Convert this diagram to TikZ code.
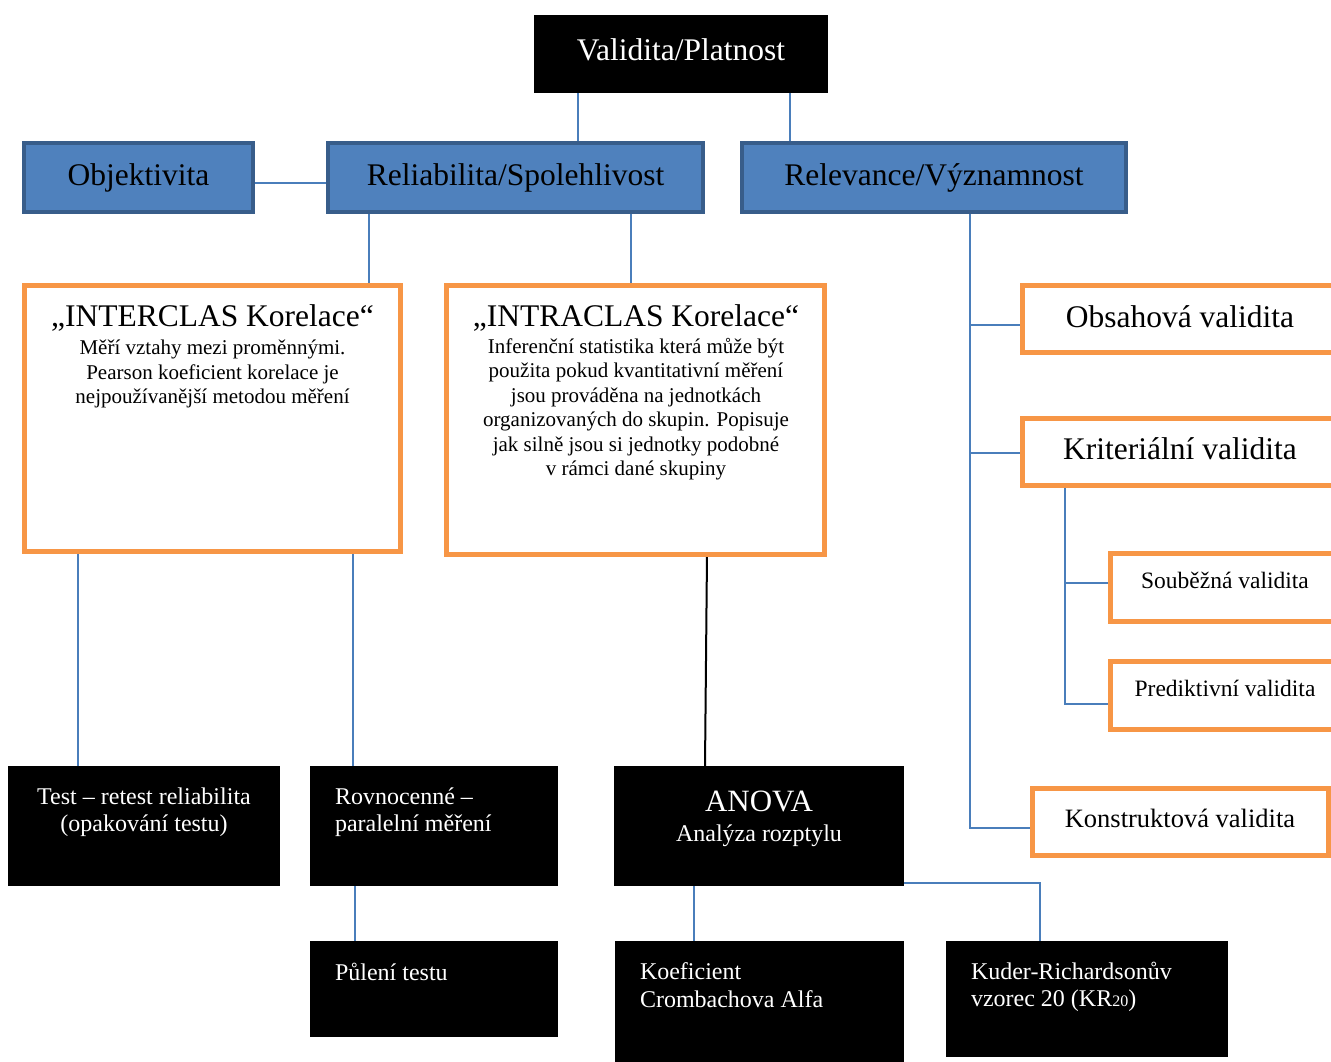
\documentclass[tikz,border=0pt]{standalone}
\usepackage{fontspec}
\setmainfont{Liberation Serif}
\definecolor{boxblue}{HTML}{4F81BD}
\definecolor{boxblueedge}{HTML}{385D8A}
\definecolor{linkblue}{HTML}{4A7EBB}
\definecolor{accent}{HTML}{F79646}
\newcommand\fsz[2]{\fontsize{#1}{#2}\selectfont}
\pgfdeclarelayer{background}
\pgfsetlayers{background,main}
\tikzset{
  every node/.style={inner sep=0pt, outer sep=0pt},
  darkbox/.style={rectangle, fill=black},
  bluebox/.style={rectangle, fill=boxblue, draw=boxblueedge, line width=4pt},
  framebox/.style={rectangle, fill=white, draw=accent, line width=5pt},
  conn/.style={draw=linkblue, line width=2pt},
  plainconn/.style={draw=black, line width=2pt},
  big/.style={font=\fsz{31.5}{36}},
  body/.style={font=\fsz{21}{24.5}, align=center},
  small/.style={font=\fsz{24}{27.5}},
  onblack/.style={small, text=white},
}
\begin{document}
\begin{tikzpicture}[x=1pt, y=-1pt]
\useasboundingbox (0,0) rectangle (1331,1062);
\clip (0,0) rectangle (1331,1062);

% top level
\node[darkbox, minimum width=294, minimum height=78] (valid) at (681,54) {};
\node[big, text=white] (validT) at (681,50) {Validita/Platnost};
\node[bluebox, minimum width=229, minimum height=69, big] (obj) at (138.5,177.5) {Objektivita};
\node[bluebox, minimum width=375, minimum height=69, big] (rel) at (515.5,177.5) {Reliabilita/Spolehlivost};
\node[bluebox, minimum width=384, minimum height=69, big] (relev) at (934,177.5) {Relevance/Významnost};

% correlation boxes
\node[framebox, minimum width=376, minimum height=266] (inter) at (212.5,418.5) {};
\node[big] (interT) at (212.5,318) {„INTERCLAS Korelace“};
\node[body] (interB) at (212.5,374) {Měří vztahy mezi proměnnými.\\Pearson koeficient korelace je\\nejpoužívanější metodou měření};

\node[framebox, minimum width=378, minimum height=269] (intra) at (635.5,420) {};
\node[big] (intraT) at (636,318) {„INTRACLAS Korelace“};
\node[body] (intraB) at (636,409) {Inferenční statistika která může být\\použita pokud kvantitativní měření\\jsou prováděna na jednotkách\\organizovaných do skupin. Popisuje\\jak silně jsou si jednotky podobné\\v rámci dané skupiny};

% validity types
\node[framebox, minimum width=322.5, minimum height=67] (obs) at (1183.75,319) {};
\node[big] (obsT) at (1180,317) {Obsahová validita};
\node[framebox, minimum width=322.5, minimum height=67] (krit) at (1183.75,452) {};
\node[big] (kritT) at (1180,449) {Kriteriální validita};
\node[framebox, minimum width=234.5, minimum height=68] (soub) at (1227.75,587.5) {};
\node[font=\fsz{23.5}{27}] (soubT) at (1225,580) {Souběžná validita};
\node[framebox, minimum width=234.5, minimum height=68] (pred) at (1227.75,695.5) {};
\node[font=\fsz{23.5}{27}] (predT) at (1225,688) {Prediktivní validita};
\node[framebox, minimum width=296, minimum height=67] (konst) at (1180.5,822) {};
\node[font=\fsz{26.5}{30}] (konstT) at (1180,818) {Konstruktová validita};

% methods
\node[darkbox, minimum width=272, minimum height=120] (test) at (144,826) {};
\node[onblack, align=center] (testT) at (144,812) {Test – retest reliabilita\\(opakování testu)};
\node[darkbox, minimum width=248, minimum height=120] (rovn) at (434,826) {};
\node[onblack, align=left, anchor=west] (rovnT) at (335,812) {Rovnocenné –\\paralelní měření};
\node[darkbox, minimum width=290, minimum height=120] (anova) at (759,826) {};
\node[text=white, align=center, font=\fsz{24}{30}] (anovaT) at (759,819) {{\fsz{31}{30}ANOVA}\\Analýza rozptylu};
\node[darkbox, minimum width=248, minimum height=96] (pul) at (434,989) {};
\node[onblack, anchor=west] (pulT) at (335,972) {Půlení testu};
\node[darkbox, minimum width=289, minimum height=121] (koef) at (759.5,1001.5) {};
\node[onblack, align=left, anchor=west] (koefT) at (640,985) {Koeficient\\Crombachova Alfa};
\node[darkbox, minimum width=282, minimum height=116] (kuder) at (1087,999) {};
\node[onblack, align=left, anchor=west] (kuderT) at (971,987) {Kuder-Richardsonův\\vzorec 20 (KR{\fsz{16}{16}20})};

% helper positions for the connector lines
\coordinate (x78) at (78,0);
\coordinate (x353) at (353,0);
\coordinate (x355) at (355,0);
\coordinate (x369) at (369,0);
\coordinate (x578) at (578,0);
\coordinate (x631) at (631,0);
\coordinate (x694) at (694,0);
\coordinate (x705) at (705,0);
\coordinate (x707) at (707,0);
\coordinate (x790) at (790,0);
\coordinate (x970) at (970,0);
\coordinate (x1040) at (1040,0);
\coordinate (x1065) at (1065,0);
\coordinate (y183) at (0,183);
\coordinate (y883) at (0,883);
\coordinate (obsIn) at ([yshift=-6pt]obs.west);
\coordinate (kritIn) at ([yshift=-1pt]krit.west);
\coordinate (soubIn) at ([yshift=4.5pt]soub.west);
\coordinate (predIn) at ([yshift=-8.5pt]pred.west);
\coordinate (konstIn) at ([yshift=-6pt]konst.west);

\begin{pgfonlayer}{background}
\fill[white] (0,0) rectangle (1331,1062);
\draw[conn] (valid.south -| x578) -- (rel.north -| x578);
\draw[conn] (valid.south -| x790) -- (relev.north -| x790);
\draw[conn] (obj.east |- y183) -- (rel.west |- y183);
\draw[conn] (rel.south -| x369) -- (inter.north -| x369);
\draw[conn] (rel.south -| x631) -- (intra.north -| x631);
\draw[conn] (inter.south -| x78) -- (test.north -| x78);
\draw[conn] (inter.south -| x353) -- (rovn.north -| x353);
\draw[plainconn] (intra.south -| x707) -- (anova.north -| x705);
\draw[conn] (rovn.south -| x355) -- (pul.north -| x355);
\draw[conn] (anova.south -| x694) -- (koef.north -| x694);
\draw[conn] (anova.east |- y883) -- (y883 -| x1040) -- (kuder.north -| x1040);
\draw[conn] (relev.south -| x970) |- (konstIn);
\draw[conn] (x970 |- obsIn) -- (obsIn);
\draw[conn] (x970 |- kritIn) -- (kritIn);
\draw[conn] (krit.south -| x1065) |- (predIn);
\draw[conn] (x1065 |- soubIn) -- (soubIn);
\end{pgfonlayer}
\end{tikzpicture}
\end{document}
